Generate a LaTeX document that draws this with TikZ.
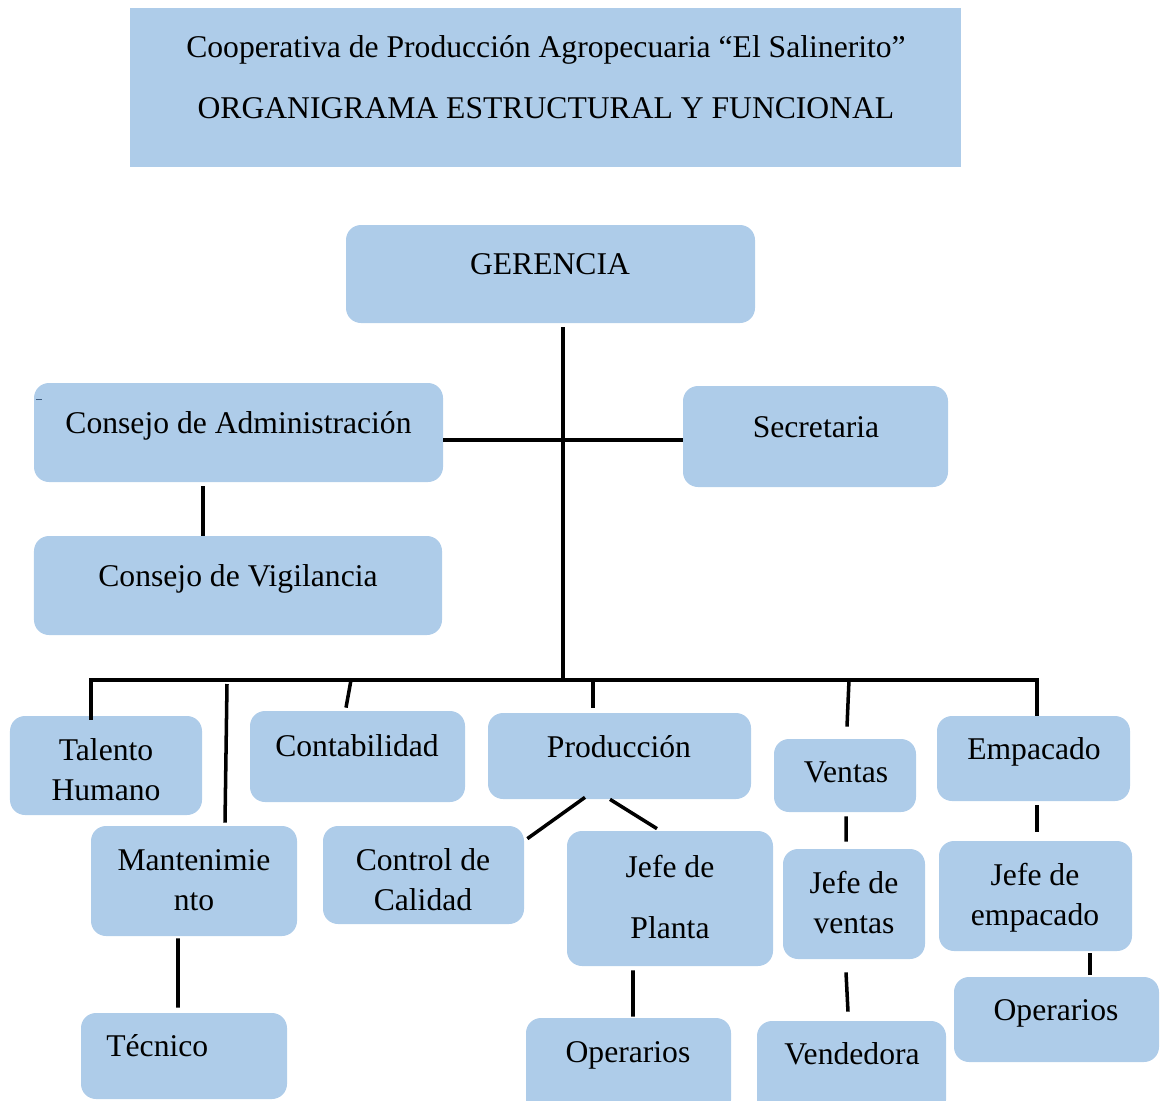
\documentclass[tikz,border=0pt]{standalone}
\usepackage{fontspec}
\setmainfont{Liberation Serif}
\usetikzlibrary{positioning}
\usetikzlibrary{calc}
\definecolor{boxblue}{RGB}{174,204,233}
\definecolor{markblue}{RGB}{60,90,125}

\begin{document}
\begin{tikzpicture}
	\tikzstyle{box}=[fill=boxblue, rounded corners=0.3cm, inner sep=0pt]
	\tikzstyle{head}=[fill=boxblue, inner sep=0pt]
	\tikzstyle{txt}=[inner sep=0pt, anchor=base, align=center, font=\fontsize{18}{22.7}\selectfont]
	\tikzstyle{link}=[line width=2pt]
	
	\useasboundingbox (0,0) rectangle (23.2,-22.02);
	\clip (0,0) rectangle (23.2,-22.02);
	
	% titulo
	\draw node at (10.91, -1.75) [head, minimum width=16.62cm, minimum height=3.18cm] (title) {};
	\draw node at (10.92, -2.37) [txt, font=\fontsize{18}{34.6}\selectfont] (title-t) {Cooperativa de Producción Agropecuaria “El Salinerito”\\ORGANIGRAMA ESTRUCTURAL Y FUNCIONAL};
	
	% nivel directivo
	\draw node at (11.01, -5.48) [box, minimum width=8.18cm, minimum height=1.96cm] (ger) {};
	\draw node at (11.0, -5.49) [txt] (ger-t) {GERENCIA};
	\draw node at (4.77, -8.65) [box, minimum width=8.18cm, minimum height=1.98cm] (adm) {};
	\draw node at (4.77, -8.66) [txt] (adm-t) {Consejo de Administración};
	\draw node at (16.31, -8.73) [box, minimum width=5.30cm, minimum height=2.02cm] (sec) {};
	\draw node at (16.32, -8.74) [txt] (sec-t) {Secretaria};
	\draw node at (4.76, -11.71) [box, minimum width=8.16cm, minimum height=1.98cm] (vig) {};
	\draw node at (4.76, -11.72) [txt] (vig-t) {Consejo de Vigilancia};
	
	% departamentos
	\draw node at (2.12, -15.31) [box, minimum width=3.84cm, minimum height=1.98cm] (tal) {};
	\draw node at (2.12, -16.0) [txt] (tal-t) {Talento\\Humano};
	\draw node at (7.15, -15.13) [box, minimum width=4.30cm, minimum height=1.82cm] (con) {};
	\draw node at (7.14, -15.12) [txt] (con-t) {Contabilidad};
	\draw node at (12.39, -15.12) [box, minimum width=5.26cm, minimum height=1.72cm] (pro) {};
	\draw node at (12.38, -15.14) [txt] (pro-t) {Producción};
	\draw node at (16.9, -15.51) [box, minimum width=2.84cm, minimum height=1.46cm] (ven) {};
	\draw node at (16.92, -15.64) [txt] (ven-t) {Ventas};
	\draw node at (20.67, -15.17) [box, minimum width=3.86cm, minimum height=1.70cm] (emp) {};
	\draw node at (20.68, -15.18) [txt] (emp-t) {Empacado};
	
	% jefaturas
	\draw node at (3.88, -17.62) [box, minimum width=4.12cm, minimum height=2.20cm] (man) {};
	\draw node at (3.88, -18.2) [txt] (man-t) {Mantenimie\\nto};
	\draw node at (8.47, -17.5) [box, minimum width=4.02cm, minimum height=1.96cm] (cal) {};
	\draw node at (8.46, -18.2) [txt] (cal-t) {Control de\\Calidad};
	\draw node at (13.4, -17.97) [box, minimum width=4.12cm, minimum height=2.70cm] (jpl) {};
	\draw node at (13.4, -18.76) [txt, font=\fontsize{18}{34.6}\selectfont] (jpl-t) {Jefe de\\Planta};
	\draw node at (17.08, -18.08) [box, minimum width=2.84cm, minimum height=2.20cm] (jve) {};
	\draw node at (17.08, -18.66) [txt] (jve-t) {Jefe de\\ventas};
	\draw node at (20.71, -17.92) [box, minimum width=3.86cm, minimum height=2.20cm] (jem) {};
	\draw node at (20.7, -18.5) [txt] (jem-t) {Jefe de\\empacado};
	
	% personal
	\draw node at (3.68, -21.12) [box, minimum width=4.12cm, minimum height=1.72cm] (tec) {};
	\draw node at (2.12, -21.12) [txt, anchor=base west] (tec-t) {Técnico};
	\draw node at (12.57, -21.33) [box, minimum width=4.10cm, minimum height=1.94cm] (ope) {};
	\draw node at (12.56, -21.24) [txt] (ope-t) {Operarios};
	\draw node at (17.03, -21.36) [box, minimum width=3.78cm, minimum height=1.88cm] (vnd) {};
	\draw node at (17.04, -21.28) [txt] (vnd-t) {Vendedora};
	\draw node at (21.13, -20.39) [box, minimum width=4.10cm, minimum height=1.70cm] (opm) {};
	\draw node at (21.12, -20.4) [txt] (opm-t) {Operarios};
	
	% lineas
	\coordinate (hub) at (11.26, -8.8);
	\coordinate (bus-l) at (1.82, -13.6);
	\coordinate (bus-r) at (20.74, -13.6);
	
	\draw [link] ([yshift=-0.08cm]ger.south -| hub) -- (hub |- bus-l);
	\draw [link] (adm.east |- hub) -- (sec.west |- hub);
	\draw [link] ([xshift=-0.71cm,yshift=-0.08cm]adm.south) -- ([xshift=-0.7cm]vig.north);
	\draw [link] ([yshift=-0.08cm]tal.north -| bus-l) -- (bus-l) -- (bus-r) -- (emp.north -| bus-r);
	
	\draw [link] ($(bus-l)+(2.72,-0.08)$) -- ([xshift=0.62cm,yshift=0.06cm]man.north);
	\draw [link] ($(bus-l)+(5.2,0)$) -- ([xshift=-0.23cm,yshift=0.06cm]con.north);
	\draw [link] ($(bus-l)+(10.04,0)$) -- ([xshift=-0.53cm,yshift=0.1cm]pro.north);
	\draw [link] ($(bus-l)+(15.16,0)$) -- ([xshift=0.04cm,yshift=0.24cm]ven.north);
	
	\draw [link] ([xshift=-0.69cm,yshift=0.04cm]pro.south) -- ([xshift=0.06cm,yshift=-0.26cm]cal.north east);
	\draw [link] ([xshift=-0.19cm]pro.south) -- ([xshift=-0.26cm,yshift=0.04cm]jpl.north);
	\draw [link] ([xshift=-0.74cm,yshift=-0.08cm]jpl.south) -- ([xshift=0.09cm,yshift=0.02cm]ope.north);
	\draw [link] ([xshift=0.02cm,yshift=-0.08cm]ven.south) -- ([xshift=-0.16cm,yshift=0.14cm]jve.north);
	\draw [link] ([xshift=-0.16cm,yshift=-0.26cm]jve.south) -- ([xshift=-0.07cm,yshift=0.18cm]vnd.north);
	\draw [link] ([xshift=0.07cm,yshift=-0.08cm]emp.south) -- ([xshift=0.03cm,yshift=0.18cm]jem.north);
	\draw [link] ([xshift=1.09cm,yshift=-0.04cm]jem.south) -- ([xshift=0.67cm,yshift=0.04cm]opm.north);
	\draw [link] ([xshift=-0.32cm,yshift=-0.04cm]man.south) -- ([xshift=-0.12cm,yshift=0.1cm]tec.north);
	
	\draw [line width=0.6pt, markblue] ([xshift=0.04cm,yshift=-0.34cm]adm.north west) -- ++(0.12,0);
\end{tikzpicture}
\end{document}
